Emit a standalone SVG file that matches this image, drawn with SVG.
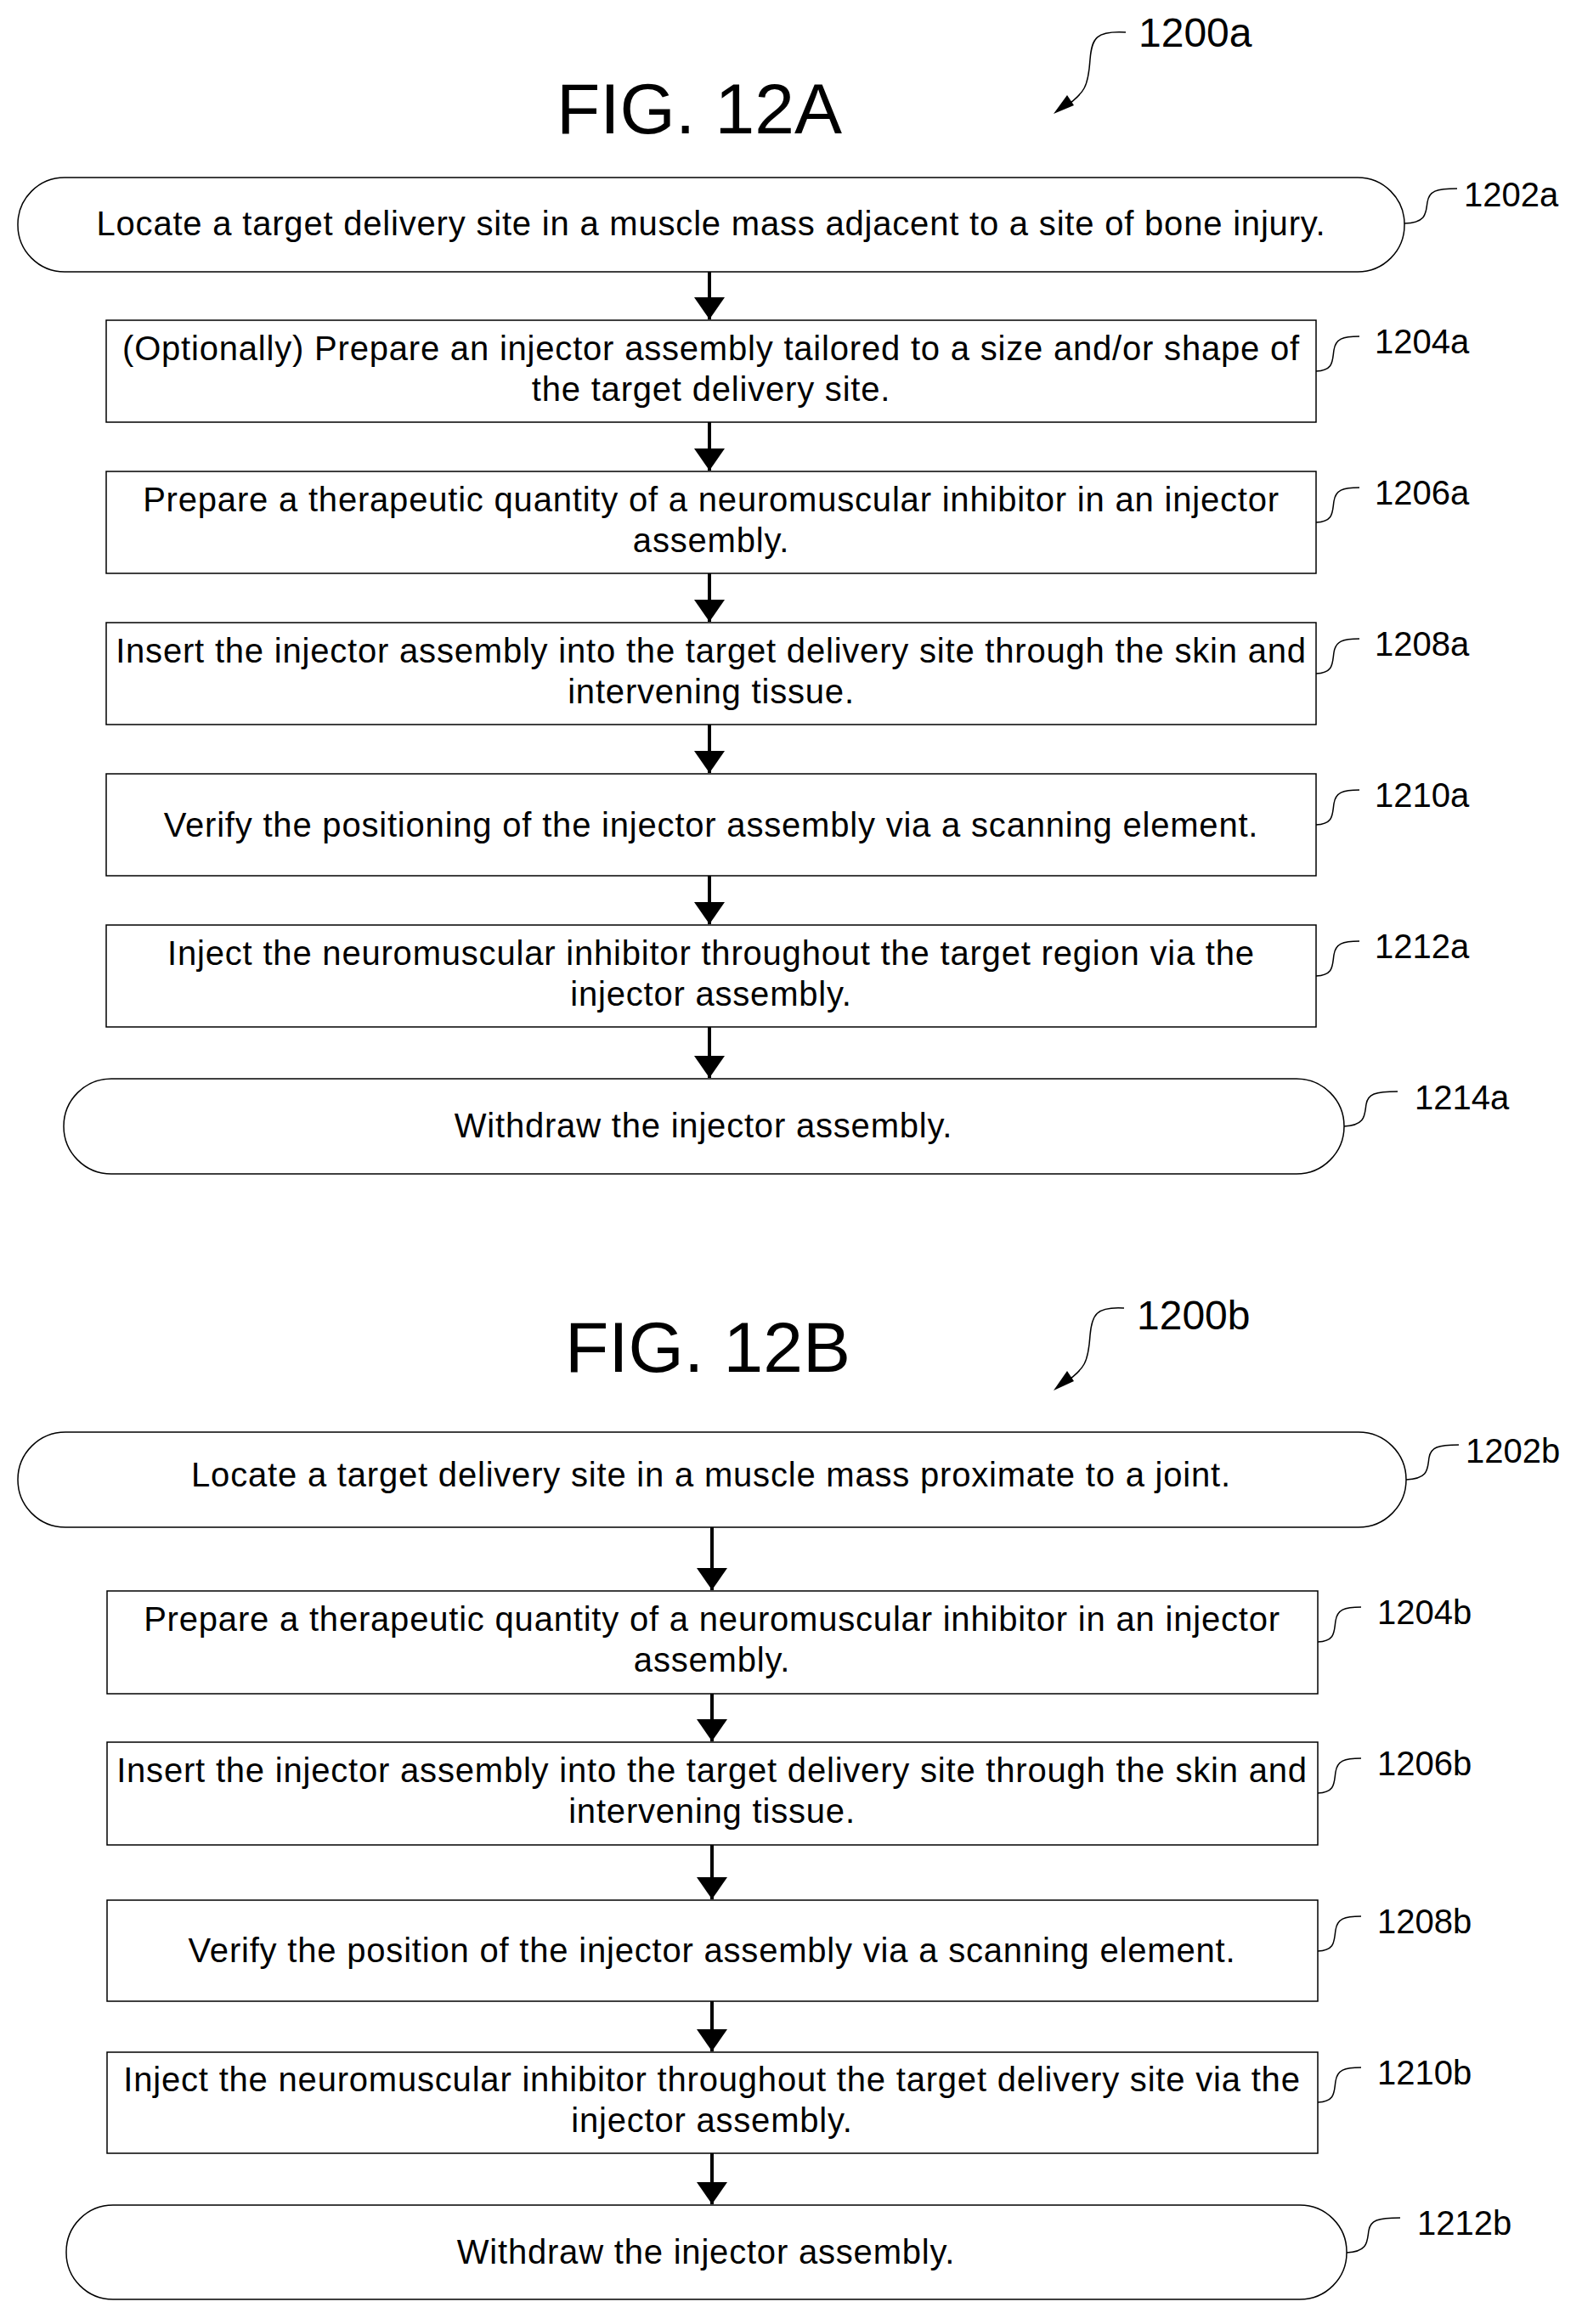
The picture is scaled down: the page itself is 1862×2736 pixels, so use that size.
<svg xmlns="http://www.w3.org/2000/svg" width="1862" height="2736" viewBox="0 0 1862 2736">
<style>
text{font-family:"Liberation Sans",Arial,sans-serif;fill:#000}
.t{font-size:40px;letter-spacing:0.8px;text-anchor:middle}
.l{font-size:40px}
.lb{font-size:48px}
.fig{font-size:84px;text-anchor:middle}
.n{fill:#fff;stroke:#000;stroke-width:1.5}
.c{stroke:#000;stroke-width:4;fill:none}
.s{stroke:#000;stroke-width:1.5;fill:none}
</style>
<defs>
<marker id="ah" viewBox="0 0 10 10" refX="10" refY="5" markerWidth="6.5" markerHeight="9" markerUnits="strokeWidth" orient="auto" preserveAspectRatio="none"><path d="M0,0L10,5L0,10z" fill="#000"/></marker>
</defs>
<rect width="1862" height="2736" fill="#fff"/>
<g id="figA">
<text class="fig" x="823" y="157">FIG. 12A</text>
<text class="lb" x="1340" y="55">1200a</text>
<path class="s" d="M1325,38 C1290,36 1285,45 1283,70 C1281,100 1278,110 1250,128"/>
<path d="M1240,134 L1256,112 L1264,124 z" fill="#000"/>
</g>
<g id="n1202a"><rect class="n" x="21" y="209" width="1632" height="111" rx="55"/><text class="t" x="837" y="277">Locate a target delivery site in a muscle mass adjacent to a site of bone injury.</text><path class="s" d="M1653,263 C1680,262 1678,250 1680,238 C1682,225 1690,222 1715,222"/><text class="l" x="1723" y="243">1202a</text></g>
<g id="n1204a"><rect class="n" x="125" y="377" width="1424" height="120"/><text class="t" x="837" y="424">(Optionally) Prepare an injector assembly tailored to a size and/or shape of</text><text class="t" x="837" y="472">the target delivery site.</text><path class="s" d="M1549,437 C1570,436 1568,425 1570,412 C1572,399 1580,396 1600,396"/><text class="l" x="1618" y="416">1204a</text></g>
<g id="n1206a"><rect class="n" x="125" y="555" width="1424" height="120"/><text class="t" x="837" y="602">Prepare a therapeutic quantity of a neuromuscular inhibitor in an injector</text><text class="t" x="837" y="650">assembly.</text><path class="s" d="M1549,615 C1570,614 1568,603 1570,590 C1572,577 1580,574 1600,574"/><text class="l" x="1618" y="594">1206a</text></g>
<g id="n1208a"><rect class="n" x="125" y="733" width="1424" height="120"/><text class="t" x="837" y="780">Insert the injector assembly into the target delivery site through the skin and</text><text class="t" x="837" y="828">intervening tissue.</text><path class="s" d="M1549,793 C1570,792 1568,781 1570,768 C1572,755 1580,752 1600,752"/><text class="l" x="1618" y="772">1208a</text></g>
<g id="n1210a"><rect class="n" x="125" y="911" width="1424" height="120"/><text class="t" x="837" y="985">Verify the positioning of the injector assembly via a scanning element.</text><path class="s" d="M1549,971 C1570,970 1568,959 1570,946 C1572,933 1580,930 1600,930"/><text class="l" x="1618" y="950">1210a</text></g>
<g id="n1212a"><rect class="n" x="125" y="1089" width="1424" height="120"/><text class="t" x="837" y="1136">Inject the neuromuscular inhibitor throughout the target region via the</text><text class="t" x="837" y="1184">injector assembly.</text><path class="s" d="M1549,1149 C1570,1148 1568,1137 1570,1124 C1572,1111 1580,1108 1600,1108"/><text class="l" x="1618" y="1128">1212a</text></g>
<g id="n1214a"><rect class="n" x="75" y="1270" width="1507" height="112" rx="56"/><text class="t" x="828" y="1339">Withdraw the injector assembly.</text><path class="s" d="M1582,1326 C1608,1325 1606,1312 1608,1300 C1610,1288 1618,1285 1645,1285"/><text class="l" x="1665" y="1306">1214a</text></g>

<g id="figB">
<text class="fig" x="833" y="1615">FIG. 12B</text>
<text class="lb" x="1338" y="1565">1200b</text>
<path class="s" d="M1323,1540 C1290,1538 1285,1548 1283,1572 C1281,1602 1278,1612 1250,1630"/>
<path d="M1240,1637 L1256,1614 L1264,1626 z" fill="#000"/>
</g>
<g id="n1202b"><rect class="n" x="21" y="1686" width="1634" height="112" rx="56"/><text class="t" x="837" y="1750">Locate a target delivery site in a muscle mass proximate to a joint.</text><path class="s" d="M1655,1742 C1682,1741 1680,1729 1682,1716 C1684,1704 1692,1701 1717,1701"/><text class="l" x="1725" y="1722">1202b</text></g>
<g id="n1204b"><rect class="n" x="126" y="1873" width="1425" height="121"/><text class="t" x="838" y="1920">Prepare a therapeutic quantity of a neuromuscular inhibitor in an injector</text><text class="t" x="838" y="1968">assembly.</text><path class="s" d="M1551,1933 C1572,1932 1570,1921 1572,1908 C1574,1895 1582,1892 1602,1892"/><text class="l" x="1621" y="1912">1204b</text></g>
<g id="n1206b"><rect class="n" x="126" y="2051" width="1425" height="121"/><text class="t" x="838" y="2098">Insert the injector assembly into the target delivery site through the skin and</text><text class="t" x="838" y="2146">intervening tissue.</text><path class="s" d="M1551,2111 C1572,2110 1570,2099 1572,2086 C1574,2073 1582,2070 1602,2070"/><text class="l" x="1621" y="2090">1206b</text></g>
<g id="n1208b"><rect class="n" x="126" y="2237" width="1425" height="119"/><text class="t" x="838" y="2310">Verify the position of the injector assembly via a scanning element.</text><path class="s" d="M1551,2297 C1572,2296 1570,2285 1572,2272 C1574,2259 1582,2256 1602,2256"/><text class="l" x="1621" y="2276">1208b</text></g>
<g id="n1210b"><rect class="n" x="126" y="2416" width="1425" height="119"/><text class="t" x="838" y="2462">Inject the neuromuscular inhibitor throughout the target delivery site via the</text><text class="t" x="838" y="2510">injector assembly.</text><path class="s" d="M1551,2475 C1572,2474 1570,2463 1572,2450 C1574,2437 1582,2434 1602,2434"/><text class="l" x="1621" y="2454">1210b</text></g>
<g id="n1212b"><rect class="n" x="78" y="2596" width="1507" height="111" rx="55"/><text class="t" x="831" y="2665">Withdraw the injector assembly.</text><path class="s" d="M1585,2652 C1611,2651 1609,2638 1611,2626 C1613,2614 1621,2611 1648,2611"/><text class="l" x="1668" y="2631">1212b</text></g>

<g id="connectors">
<line class="c" x1="835" y1="320" x2="835" y2="376" marker-end="url(#ah)"/>
<line class="c" x1="835" y1="497" x2="835" y2="554" marker-end="url(#ah)"/>
<line class="c" x1="835" y1="675" x2="835" y2="732" marker-end="url(#ah)"/>
<line class="c" x1="835" y1="853" x2="835" y2="910" marker-end="url(#ah)"/>
<line class="c" x1="835" y1="1031" x2="835" y2="1088" marker-end="url(#ah)"/>
<line class="c" x1="835" y1="1209" x2="835" y2="1269" marker-end="url(#ah)"/>
<line class="c" x1="838" y1="1798" x2="838" y2="1872" marker-end="url(#ah)"/>
<line class="c" x1="838" y1="1994" x2="838" y2="2050" marker-end="url(#ah)"/>
<line class="c" x1="838" y1="2172" x2="838" y2="2236" marker-end="url(#ah)"/>
<line class="c" x1="838" y1="2356" x2="838" y2="2415" marker-end="url(#ah)"/>
<line class="c" x1="838" y1="2535" x2="838" y2="2595" marker-end="url(#ah)"/>
</g>
</svg>
